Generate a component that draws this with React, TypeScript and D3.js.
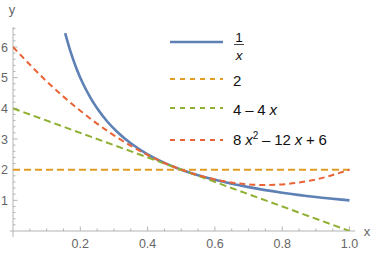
import React from "react";
import * as d3 from "d3";

// values
const invX = [0.155, 0.17, 0.19, 0.21, 0.23, 0.25, 0.28, 0.31, 0.35, 0.4, 0.45, 0.5, 0.55, 0.6, 0.7, 0.8, 0.9, 1.0];
const invY = [6.45, 5.88, 5.26, 4.76, 4.35, 4.0, 3.57, 3.23, 2.86, 2.5, 2.22, 2.0, 1.82, 1.67, 1.43, 1.25, 1.11, 1.0];
const constX = [0, 1];
const constY = [2, 2];
const linX = [0, 1];
const linY = [4, 0];
const quadX = [0, 0.1, 0.2, 0.3, 0.4, 0.5, 0.6, 0.7, 0.75, 0.8, 0.9, 1.0];
const quadY = [6, 4.88, 3.92, 3.12, 2.48, 2.0, 1.68, 1.52, 1.5, 1.52, 1.68, 2.0];

const xTickLabels = ["0.2", "0.4", "0.6", "0.8", "1.0"];
const yTickLabels = ["1", "2", "3", "4", "5", "6"];

const W = 374, H = 255;
const font = "'Liberation Sans', Arial, sans-serif";

export default function App() {
  const x = d3.scaleLinear().domain([0, 1]).range([13, 349.5]);
  const y = d3.scaleLinear().domain([0, 6]).range([231, 47]);

  const line = (xs: number[], ys: number[]) =>
    d3.line<number>().x((d, i) => x(xs[i])).y((d) => y(d)).curve(d3.curveMonotoneX)(ys) || "";

  const series = [
    { xs: invX, ys: invY, color: "#5E81B5", dash: "", width: 2.6 },
    { xs: constX, ys: constY, color: "#E19C24", dash: "7,4", width: 2 },
    { xs: linX, ys: linY, color: "#8FB032", dash: "7,4", width: 2 },
    { xs: quadX, ys: quadY, color: "#EB6235", dash: "6,4", width: 2 },
  ];

  const xMinor = d3.range(1, 21).map((i) => i * 0.05);
  const yMinor = d3.range(1, 34).map((i) => i * 0.2);

  const axisColor = "#b3b3b3";
  const labelColor = "#666";
  const g = 3.8; // gap between legend glyphs

  return (
    <svg width={W} height={H} style={{ position: "absolute", left: 0, top: 0 }} fontFamily={font}>
      <defs>
        <clipPath id="plot">
          <rect x={x(0)} y={27} width={x(1) - x(0) + 2} height={y(0) - 27} />
        </clipPath>
      </defs>
      {/* axes */}
      <line x1={10} x2={355} y1={y(0)} y2={y(0)} stroke={axisColor} strokeWidth={1} />
      <line x1={x(0)} x2={x(0)} y1={27} y2={237} stroke={axisColor} strokeWidth={1} />
      {xMinor.map((v, i) => {
        const major = Math.abs(v * 5 - Math.round(v * 5)) < 1e-6;
        return (
          <line key={"xt" + i} x1={x(v)} x2={x(v)} y1={y(0)} y2={y(0) - (major ? 4.5 : 2.5)}
            stroke={axisColor} strokeWidth={1} />
        );
      })}
      {yMinor.map((v, i) => {
        const major = Math.abs(v - Math.round(v)) < 1e-6;
        return (
          <line key={"yt" + i} x1={x(0)} x2={x(0) + (major ? 4.5 : 2.5)} y1={y(v)} y2={y(v)}
            stroke={axisColor} strokeWidth={1} />
        );
      })}
      {xTickLabels.map((t) => (
        <text key={t} x={x(+t)} y={y(0) + 17} textAnchor="middle" fontSize={12.5} fill={labelColor}>{t}</text>
      ))}
      {yTickLabels.map((t) => (
        <text key={t} x={x(0) - 5} y={y(+t) + 4.5} textAnchor="end" fontSize={12.5} fill={labelColor}>{t}</text>
      ))}
      <text x={367} y={236} textAnchor="middle" fontSize={13} fill={labelColor}>x</text>
      <text x={12} y={14} textAnchor="middle" fontSize={13} fill={labelColor}>y</text>

      {/* curves */}
      <g clipPath="url(#plot)">
        {series.map((s, i) => (
          <path key={i} d={line(s.xs, s.ys)} fill="none" stroke={s.color} strokeWidth={s.width}
            strokeDasharray={s.dash || undefined} />
        ))}
      </g>

      {/* legend */}
      <g fontSize={15} fill="#111">
        <line x1={170} x2={223} y1={42} y2={42} stroke="#5E81B5" strokeWidth={2.6} />
        <text x={239} y={42} textAnchor="middle" fontSize={13.5}>1</text>
        <line x1={234} x2={244} y1={44.5} y2={44.5} stroke="#111" strokeWidth={0.8} />
        <text x={239} y={60} textAnchor="middle" fontSize={13.5} fontStyle="italic">x</text>

        <line x1={170} x2={223} y1={79} y2={79} stroke="#E19C24" strokeWidth={2} strokeDasharray="5,5" />
        <text x={233} y={86}>2</text>

        <line x1={170} x2={223} y1={108} y2={108} stroke="#8FB032" strokeWidth={2} strokeDasharray="5,5" />
        <text x={233} y={115}>
          <tspan>4</tspan><tspan dx={g}>–</tspan><tspan dx={g}>4</tspan>
          <tspan dx={g} fontStyle="italic">x</tspan>
        </text>

        <line x1={170} x2={223} y1={140} y2={140} stroke="#EB6235" strokeWidth={2} strokeDasharray="5,5" />
        <text x={233} y={145}>
          <tspan>8</tspan><tspan dx={g} fontStyle="italic">x</tspan>
          <tspan dy={-6} fontSize={10}>2</tspan>
          <tspan dx={g} dy={6}>–</tspan><tspan dx={g}>12</tspan>
          <tspan dx={g} fontStyle="italic">x</tspan><tspan dx={g}>+</tspan><tspan dx={g}>6</tspan>
        </text>
      </g>
    </svg>
  );
}
